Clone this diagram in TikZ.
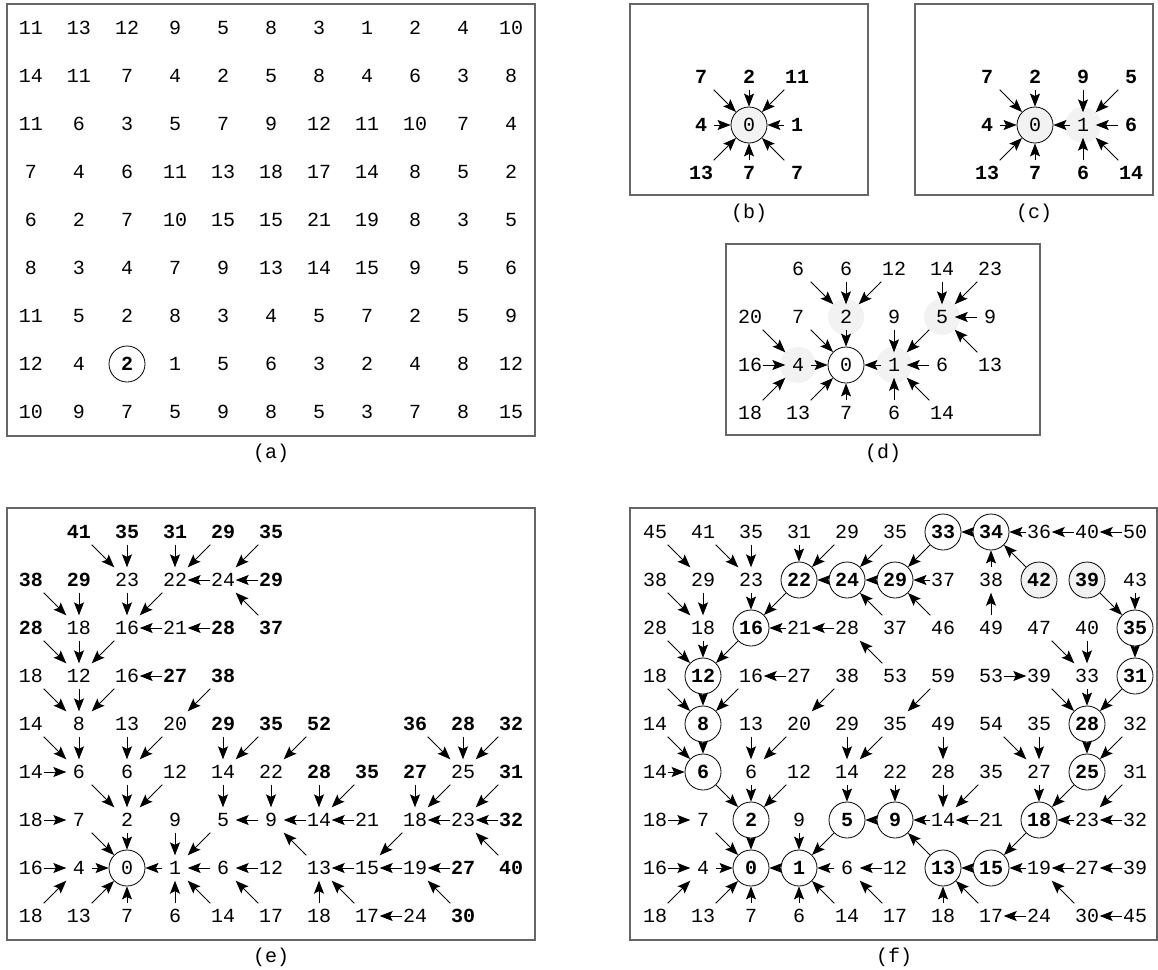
\documentclass[tikz,border=0pt]{standalone}
\usepackage{fontspec}
\setmonofont{Liberation Mono}
\usetikzlibrary{arrows.meta}
\definecolor{shadeGray}{HTML}{F2F2F2}
\definecolor{frameGray}{HTML}{666666}
\newcommand{\gridfont}{\ttfamily\fontsize{20}{20}\selectfont}

\begin{document}
\begin{tikzpicture}[
    x=1pt, y=-1pt,
    num/.style={rectangle, minimum size=25pt, inner sep=0pt, font=\gridfont},
    bnum/.style={num, font=\gridfont\bfseries},
    ring/.style={circle, draw, line width=0.8pt, minimum size=36pt, inner sep=0pt,
                 font=\gridfont, fill=white},
    bring/.style={ring, font=\gridfont\bfseries},
    panel/.style={draw=frameGray, line width=1.2pt},
    caption/.style={font=\gridfont},
    link/.style={-{Stealth[length=13pt, width=10pt, inset=2.5pt]}, line width=0.9pt},
    cell/.style={x=48pt, y=-48pt}
]
\useasboundingbox (0,0) rectangle (1158,969);

% frames and captions
\draw[panel] (7,4) rectangle (535,436);
\draw[panel] (630,4) rectangle (868,195);
\draw[panel] (915,4) rectangle (1153,195);
\draw[panel] (726,244) rectangle (1040,435);
\draw[panel] (7,508) rectangle (535,940);
\draw[panel] (630,508) rectangle (1157,940);
\node[caption] (capA) at (271,453) {(a)};
\node[caption] (capB) at (749,213) {(b)};
\node[caption] (capC) at (1034,213) {(c)};
\node[caption] (capD) at (883,453) {(d)};
\node[caption] (capE) at (271,957) {(e)};
\node[caption] (capF) at (894,957) {(f)};

% (a) cost grid
\begin{scope}[shift={(31,28)}, cell]
\foreach \vals [count=\ry from 0] in {
    {11,13,12,9,5,8,3,1,2,4,10}, {14,11,7,4,2,5,8,4,6,3,8},
    {11,6,3,5,7,9,12,11,10,7,4}, {7,4,6,11,13,18,17,14,8,5,2},
    {6,2,7,10,15,15,21,19,8,3,5}, {8,3,4,7,9,13,14,15,9,5,6},
    {11,5,2,8,3,4,5,7,2,5,9}, {12,4,\textbf{2},1,5,6,3,2,4,8,12},
    {10,9,7,5,9,8,5,3,7,8,15}} {
  \foreach \val [count=\cx from 0] in \vals
    \node[num] (a-\ry-\cx) at (\cx,\ry) {\val};
}
\draw[line width=0.8pt] (a-7-2.center) circle[radius=18pt];
\end{scope}

% (b) first step
\begin{scope}[shift={(701,77)}, cell]
\node[ring, fill=shadeGray] (b-1-1) at (1,1) {0};
\foreach \cx/\ry/\val in {0/0/7, 1/0/2, 2/0/11, 0/1/4, 2/1/1, 0/2/13, 1/2/7, 2/2/7}
  \node[bnum] (b-\ry-\cx) at (\cx,\ry) {\val};
\foreach \src in {0-0, 0-1, 0-2, 1-0, 1-2, 2-0, 2-1, 2-2}
  \draw[link] (b-\src) -- (b-1-1);
\end{scope}

% (c) second step
\begin{scope}[shift={(987,77)}, cell]
\fill[shadeGray] (2,1) circle[radius=18pt];
\node[ring, fill=shadeGray] (c-1-1) at (1,1) {0};
\node[num] (c-1-2) at (2,1) {1};
\foreach \cx/\ry/\val in {0/0/7, 1/0/2, 2/0/9, 3/0/5, 0/1/4, 3/1/6,
                          0/2/13, 1/2/7, 2/2/6, 3/2/14}
  \node[bnum] (c-\ry-\cx) at (\cx,\ry) {\val};
\foreach \src/\dst in {0-0/1-1, 0-1/1-1, 1-0/1-1, 2-0/1-1, 2-1/1-1, 1-2/1-1,
                       0-2/1-2, 0-3/1-2, 1-3/1-2, 2-2/1-2, 2-3/1-2}
  \draw[link] (c-\src) -- (c-\dst);
\end{scope}

% (d) a few steps later
\begin{scope}[shift={(750,269)}, cell]
\foreach \cx/\ry in {2/1, 4/1, 1/2, 3/2}
  \fill[shadeGray] (\cx,\ry) circle[radius=18pt];
\node[ring] (d-2-2) at (2,2) {0};
\foreach \cx/\ry/\val in {1/0/6, 2/0/6, 3/0/12, 4/0/14, 5/0/23,
                          0/1/20, 1/1/7, 2/1/2, 3/1/9, 4/1/5, 5/1/9,
                          0/2/16, 1/2/4, 3/2/1, 4/2/6, 5/2/13,
                          0/3/18, 1/3/13, 2/3/7, 3/3/6, 4/3/14}
  \node[num] (d-\ry-\cx) at (\cx,\ry) {\val};
\foreach \src/\dst in {0-1/1-2, 0-2/1-2, 0-3/1-2, 0-4/1-4, 0-5/1-4,
                       1-0/2-1, 1-1/2-2, 1-2/2-2, 1-3/2-3, 1-4/2-3, 1-5/1-4,
                       2-0/2-1, 2-1/2-2, 2-3/2-2, 2-4/2-3, 2-5/1-4,
                       3-0/2-1, 3-1/2-2, 3-2/2-2, 3-3/2-3, 3-4/2-3}
  \draw[link] (d-\src) -- (d-\dst);
\end{scope}

% (e) partial distance map
\begin{scope}[shift={(31,532)}, cell]
\node[ring] (e-7-2) at (2,7) {0};
\foreach \cx/\ry/\val in {2/1/23, 3/1/22, 4/1/24, 1/2/18, 2/2/16, 3/2/21,
                          0/3/18, 1/3/12, 2/3/16, 0/4/14, 1/4/8, 2/4/13, 3/4/20,
                          0/5/14, 1/5/6, 2/5/6, 3/5/12, 4/5/14, 5/5/22, 9/5/25,
                          0/6/18, 1/6/7, 2/6/2, 3/6/9, 4/6/5, 5/6/9, 6/6/14, 7/6/21, 8/6/18, 9/6/23,
                          0/7/16, 1/7/4, 3/7/1, 4/7/6, 5/7/12, 6/7/13, 7/7/15, 8/7/19,
                          0/8/18, 1/8/13, 2/8/7, 3/8/6, 4/8/14, 5/8/17, 6/8/18, 7/8/17, 8/8/24}
  \node[num] (e-\ry-\cx) at (\cx,\ry) {\val};
\foreach \cx/\ry/\val in {1/0/41, 2/0/35, 3/0/31, 4/0/29, 5/0/35, 0/1/38, 1/1/29, 5/1/29,
                          0/2/28, 4/2/28, 5/2/37, 3/3/27, 4/3/38,
                          4/4/29, 5/4/35, 6/4/52, 8/4/36, 9/4/28, 10/4/32,
                          6/5/28, 7/5/35, 8/5/27, 10/5/31, 10/6/32, 9/7/27, 10/7/40, 9/8/30}
  \node[bnum] (e-\ry-\cx) at (\cx,\ry) {\val};
\foreach \src/\dst in {0-1/1-2, 0-2/1-2, 0-3/1-3, 0-4/1-3, 0-5/1-4, 1-4/1-3, 1-5/1-4, 2-5/1-4,
                       1-0/2-1, 1-1/2-1, 1-2/2-2, 1-3/2-2, 2-3/2-2, 2-4/2-3,
                       2-0/3-1, 2-1/3-1, 2-2/3-1, 3-0/4-1, 3-1/4-1, 3-2/4-1, 3-3/3-2, 3-4/4-3,
                       4-0/5-1, 4-1/5-1, 4-2/5-2, 4-3/5-2, 4-4/5-4, 4-5/5-4, 4-6/5-5,
                       4-8/5-9, 4-9/5-9, 4-10/5-9,
                       5-0/5-1, 5-1/6-2, 5-2/6-2, 5-3/6-2, 5-4/6-4, 5-5/6-5, 5-6/6-6, 5-7/6-6,
                       5-8/6-8, 5-9/6-8, 5-10/6-9,
                       6-0/6-1, 6-1/7-2, 6-2/7-2, 6-3/7-3, 6-4/7-3, 6-5/6-4, 6-6/6-5, 6-7/6-6,
                       6-8/7-7, 6-9/6-8, 6-10/6-9,
                       7-0/7-1, 7-1/7-2, 7-3/7-2, 7-4/7-3, 7-5/7-4, 7-6/6-5, 7-7/7-6, 7-8/7-7,
                       7-9/7-8, 7-10/6-9,
                       8-0/7-1, 8-1/7-2, 8-2/7-2, 8-3/7-3, 8-4/7-3, 8-5/7-4, 8-6/7-6, 8-7/7-6,
                       8-8/8-7, 8-9/7-8}
  \draw[link] (e-\src) -- (e-\dst);
\end{scope}

% (f) full distance map and path
\begin{scope}[shift={(655,532)}, cell]
\foreach \cx/\ry/\val in {0/0/45, 1/0/41, 2/0/35, 3/0/31, 4/0/29, 5/0/35, 8/0/36, 9/0/40, 10/0/50,
                          0/1/38, 1/1/29, 2/1/23, 6/1/37, 7/1/38, 10/1/43,
                          0/2/28, 1/2/18, 3/2/21, 4/2/28, 5/2/37, 6/2/46, 7/2/49, 8/2/47, 9/2/40,
                          0/3/18, 2/3/16, 3/3/27, 4/3/38, 5/3/53, 6/3/59, 7/3/53, 8/3/39, 9/3/33,
                          0/4/14, 2/4/13, 3/4/20, 4/4/29, 5/4/35, 6/4/49, 7/4/54, 8/4/35, 10/4/32,
                          0/5/14, 2/5/6, 3/5/12, 4/5/14, 5/5/22, 6/5/28, 7/5/35, 8/5/27, 10/5/31,
                          0/6/18, 1/6/7, 3/6/9, 6/6/14, 7/6/21, 9/6/23, 10/6/32,
                          0/7/16, 1/7/4, 4/7/6, 5/7/12, 8/7/19, 9/7/27, 10/7/39,
                          0/8/18, 1/8/13, 2/8/7, 3/8/6, 4/8/14, 5/8/17, 6/8/18, 7/8/17,
                          8/8/24, 9/8/30, 10/8/45}
  \node[num] (f-\ry-\cx) at (\cx,\ry) {\val};
\foreach \cx/\ry/\val in {6/0/33, 7/0/34, 3/1/22, 4/1/24, 5/1/29, 2/2/16, 10/2/35, 1/3/12, 10/3/31,
                          1/4/8, 9/4/28, 1/5/6, 9/5/25, 2/6/2, 4/6/5, 5/6/9, 8/6/18,
                          2/7/0, 3/7/1, 6/7/13, 7/7/15}
  \node[bring] (f-\ry-\cx) at (\cx,\ry) {\val};
\node[bring, fill=shadeGray] (f-1-8) at (8,1) {42};
\node[bring, fill=shadeGray] (f-1-9) at (9,1) {39};
\foreach \src/\dst in {0-0/1-1, 0-1/1-2, 0-2/1-2, 0-3/1-3, 0-4/1-3, 0-5/1-4, 0-6/1-5,
                       0-7/0-6, 0-8/0-7, 0-9/0-8, 0-10/0-9,
                       1-4/1-3, 1-5/1-4, 1-6/1-5, 1-7/0-7, 1-8/0-7, 1-9/2-10, 1-10/2-10,
                       1-0/2-1, 1-1/2-1, 1-2/2-2, 1-3/2-2,
                       2-3/2-2, 2-4/2-3, 2-5/1-4, 2-6/1-5, 2-7/1-7, 2-8/3-9, 2-9/3-9, 2-10/3-10,
                       2-0/3-1, 2-1/3-1, 2-2/3-1,
                       3-0/4-1, 3-1/4-1, 3-2/4-1, 3-3/3-2, 3-4/4-3, 3-5/2-4, 3-6/4-5, 3-7/3-8,
                       3-8/4-9, 3-9/4-9, 3-10/4-9,
                       4-0/5-1, 4-1/5-1, 4-2/5-2, 4-3/5-2, 4-4/5-4, 4-5/5-4, 4-6/5-6, 4-7/5-8,
                       4-8/5-8, 4-9/5-9, 4-10/5-9,
                       5-0/5-1, 5-1/6-2, 5-2/6-2, 5-3/6-2, 5-4/6-4, 5-5/6-5, 5-6/6-6, 5-7/6-6,
                       5-8/6-8, 5-9/6-8, 5-10/6-9,
                       6-0/6-1, 6-1/7-2, 6-2/7-2, 6-3/7-3, 6-4/7-3, 6-5/6-4, 6-6/6-5, 6-7/6-6,
                       6-8/7-7, 6-9/6-8, 6-10/6-9,
                       7-0/7-1, 7-1/7-2, 7-3/7-2, 7-4/7-3, 7-5/7-4, 7-6/6-5, 7-7/7-6, 7-8/7-7,
                       7-9/7-8, 7-10/7-9,
                       8-0/7-1, 8-1/7-2, 8-2/7-2, 8-3/7-3, 8-4/7-3, 8-5/7-4, 8-6/7-6, 8-7/7-6,
                       8-8/8-7, 8-9/7-8, 8-10/8-9}
  \draw[link] (f-\src) -- (f-\dst);
\end{scope}

\end{tikzpicture}
\end{document}
